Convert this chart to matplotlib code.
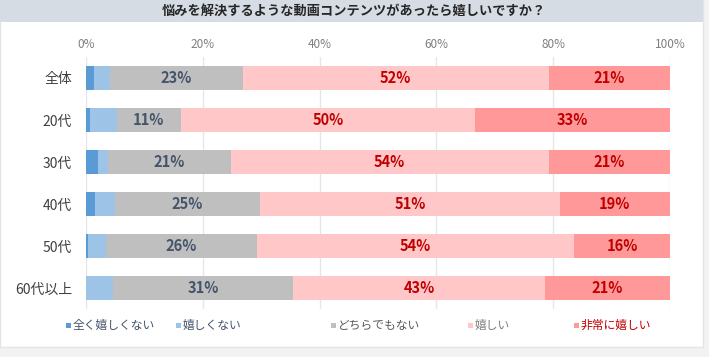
import matplotlib
matplotlib.use("Agg")
import matplotlib.pyplot as plt
from matplotlib.patches import Rectangle
import numpy as np

plt.rcParams['font.family'] = ['Noto Sans CJK JP', 'DejaVu Sans']

title = "悩みを解決するような動画コンテンツがあったら嬉しいですか？"
categories = ["全体", "20代", "30代", "40代", "50代", "60代以上"]
series_names = ["全く嬉しくない", "嬉しくない", "どちらでもない", "嬉しい", "非常に嬉しい"]
v_none = [1.4, 0.7, 2.0, 1.6, 0.4, 0.0]
v_not = [2.7, 4.6, 1.7, 3.3, 3.1, 4.6]
v_neutral = [22.7, 10.9, 21.1, 24.9, 25.7, 30.9]
v_happy = [52.4, 50.4, 54.4, 51.3, 54.4, 43.1]
v_very = [20.8, 33.4, 20.8, 18.9, 16.4, 21.4]
tick_values = [0, 20, 40, 60, 80, 100]

colors = ["#5B9BD5", "#9DC3E6", "#BFBFBF", "#FFC7C7", "#FF9999"]
legend_text_colors = ["#44546A", "#44546A", "#595959", "#7F7F7F", "#C00000"]
label_colors = [None, None, "#44546A", "#C00000", "#C00000"]

W, H = 709, 357
fig = plt.figure(figsize=(W / 100, H / 100), dpi=100)
fig.patch.set_facecolor("#F2F2F2")

# white panel and title band
fig.patches.append(Rectangle((0, 1 - 347 / H), 703 / W, 347 / H, transform=fig.transFigure,
                             facecolor="white", edgecolor="#E4E4E4", lw=1, zorder=-10))
fig.patches.append(Rectangle((0, 1 - 22 / H), 703 / W, 22 / H, transform=fig.transFigure,
                             facecolor="#D6DCE4", edgecolor="none", zorder=-9))
fig.text(354 / W, 1 - 11 / H, title, ha="center", va="center", fontsize=9.5,
         fontweight="bold", color="#262626")

ax = fig.add_axes([86 / W, 1 - 309 / H, (670 - 86) / W, (309 - 57) / H])
ax.set_facecolor("none")
ax.set_zorder(5)

data = [v_none, v_not, v_neutral, v_happy, v_very]
y = np.arange(len(categories))
left = np.zeros(len(categories))
for i, vals in enumerate(data):
    vals = np.array(vals)
    ax.barh(y, vals, left=left, height=0.565, color=colors[i], edgecolor="none", zorder=2)
    if label_colors[i]:
        for yy, l, v in zip(y, left, vals):
            ax.text(l + v / 2, yy, f"{int(round(v))}%", ha="center", va="center",
                    fontsize=10.5, fontweight="bold", color=label_colors[i], zorder=3)
    left = left + vals

ax.set_xlim(0, 100)
ax.set_ylim(len(categories) - 0.5, -0.5)
ax.set_xticks(tick_values)
ax.set_xticklabels([f"{t}%" for t in tick_values], fontsize=8.5, color="#7F7F7F")
ax.xaxis.tick_top()
ax.tick_params(axis="x", length=0, pad=4)
ax.set_yticks(y)
ax.set_yticklabels(categories, fontsize=10, color="#404040")
ax.tick_params(axis="y", length=0, pad=10)
ax.grid(axis="x", color="#E3E6EA", lw=1, zorder=1)
ax.set_axisbelow(True)
for s in ax.spines.values():
    s.set_visible(False)

# legend
leg_x = [66, 176, 331, 468, 574]
leg_y = 1 - 325 / H
for xpos, name, c, tc in zip(leg_x, series_names, colors, legend_text_colors):
    fig.patches.append(Rectangle((xpos / W, leg_y - 2.5 / H), 5 / W, 5 / H,
                                 transform=fig.transFigure, facecolor=c, edgecolor="none"))
    fig.text((xpos + 7) / W, leg_y, name, ha="left", va="center", fontsize=8.5, color=tc)

fig.savefig("out.png", dpi=100, facecolor=fig.get_facecolor())
